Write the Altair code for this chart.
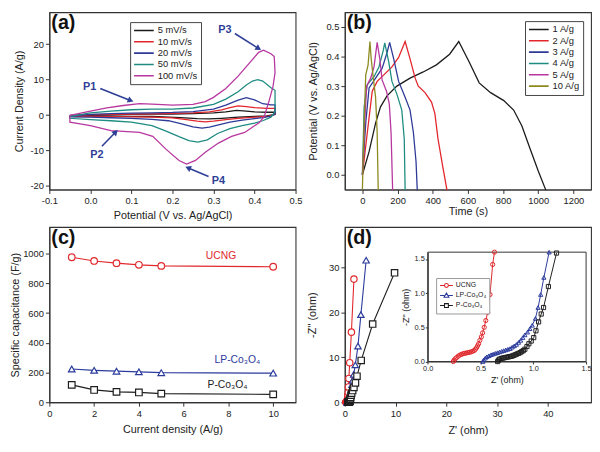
import math
import altair as alt
import pandas as pd

# ---------------- (a) cyclic voltammetry ----------------
cv_names = ["5 mV/s", "10 mV/s", "20 mV/s", "50 mV/s", "100 mV/s"]
cv_colors = ["#1b1b1b", "#e3262c", "#2e3a97", "#1f8c82", "#b7379f"]

cv5_v = [-0.05, 0.0, 0.05, 0.1, 0.15, 0.2, 0.25, 0.3, 0.33, 0.356, 0.38, 0.4, 0.43, 0.45,
         0.45, 0.43, 0.4, 0.36, 0.32, 0.29, 0.26, 0.22, 0.15, 0.1, 0.05, 0.0, -0.05, -0.05]
cv5_i = [-0.1, 0.05, 0.15, 0.2, 0.25, 0.3, 0.4, 0.6, 0.9, 1.3, 1.1, 0.9, 0.8, 0.8,
         0.2, -0.2, -0.4, -0.6, -0.9, -1.1, -1.0, -0.7, -0.4, -0.35, -0.3, -0.3, -0.25, -0.1]

cv10_v = [-0.05, 0.0, 0.05, 0.1, 0.15, 0.2, 0.25, 0.29, 0.32, 0.34, 0.36, 0.38, 0.4, 0.43, 0.45,
          0.45, 0.43, 0.4, 0.36, 0.33, 0.3, 0.28, 0.26, 0.23, 0.2, 0.15, 0.1, 0.05, 0.0, -0.05, -0.05]
cv10_i = [-0.2, 0.1, 0.2, 0.3, 0.35, 0.45, 0.6, 0.9, 1.5, 2.1, 2.6, 2.4, 2.1, 1.9, 1.9,
          0.2, -0.4, -0.6, -0.9, -1.3, -1.7, -1.9, -1.7, -1.2, -0.8, -0.6, -0.5, -0.45, -0.4, -0.35, -0.2]

cv20_v = [-0.05, 0.0, 0.05, 0.1, 0.15, 0.2, 0.25, 0.3, 0.33, 0.36, 0.38, 0.4, 0.42, 0.44, 0.45,
          0.45, 0.44, 0.42, 0.4, 0.37, 0.34, 0.31, 0.29, 0.272, 0.25, 0.22, 0.19, 0.15, 0.1, 0.05, 0.0, -0.05, -0.05]
cv20_i = [-0.3, 0.2, 0.4, 0.55, 0.65, 0.75, 1.0, 1.7, 2.8, 4.2, 4.9, 4.3, 3.2, 2.9, 2.9,
          0.3, -0.3, -0.7, -1.0, -1.4, -2.0, -2.8, -3.4, -3.7, -3.3, -2.4, -1.6, -1.2, -0.9, -0.75, -0.6, -0.5, -0.3]

cv50_v = [-0.05, 0.0, 0.05, 0.1, 0.15, 0.2, 0.25, 0.3, 0.33, 0.36, 0.38, 0.395, 0.408, 0.42, 0.44, 0.45,
          0.45, 0.44, 0.42, 0.4, 0.37, 0.34, 0.31, 0.285, 0.262, 0.24, 0.216, 0.18, 0.15, 0.1, 0.05, 0.0, -0.05, -0.05]
cv50_i = [-0.4, 0.6, 1.1, 1.5, 1.7, 1.7, 2.0, 3.0, 4.5, 6.6, 8.5, 9.6, 10.0, 9.6, 7.7, 7.0,
          1.0, -0.6, -1.6, -2.3, -3.0, -3.8, -5.2, -7.0, -7.6, -7.2, -6.1, -4.3, -3.0, -2.0, -1.6, -1.3, -0.9, -0.4]

cv100_v = [-0.05, 0.0, 0.04, 0.08, 0.12, 0.15, 0.2, 0.25, 0.28, 0.3, 0.33, 0.36, 0.39, 0.41, 0.422, 0.44, 0.448,
           0.45, 0.445, 0.436, 0.424, 0.412, 0.4, 0.376, 0.344, 0.312, 0.28, 0.256, 0.2345, 0.216, 0.184,
           0.152, 0.12, 0.08, 0.05, 0.0, -0.025, -0.05, -0.05]
cv100_i = [-0.1, 1.1, 2.0, 2.7, 3.2, 3.1, 2.8, 3.0, 3.8, 5.0, 7.5, 11.0, 15.0, 17.7, 18.3, 17.3, 16.5,
           12.0, 8.0, 4.2, -0.3, -2.1, -3.0, -4.9, -6.0, -7.9, -10.5, -12.8, -13.8, -12.8, -9.6,
           -6.0, -4.9, -4.6, -4.4, -3.0, -2.5, -2.0, -0.1]

# peak annotations (label position and arrow start/end, in data units)
p_labels = ["P1", "P2", "P3", "P4"]
p_text_v = [-0.002, 0.016, 0.328, 0.312]
p_text_i = [7.8, -11.2, 23.9, -18.6]
p_arrow_v0 = [0.024, 0.028, 0.352, 0.288]
p_arrow_i0 = [7.5, -8.8, 23.0, -17.3]
p_arrow_v1 = [0.096, 0.06, 0.408, 0.24]
p_arrow_i1 = [4.2, -5.0, 18.9, -15.0]

a_xticks = [-0.1, 0.0, 0.1, 0.2, 0.3, 0.4, 0.5]
a_yticks = [-20, -10, 0, 10, 20]

# ---------------- (b) galvanostatic charge/discharge ----------------
gcd_names = ["1 A/g", "2 A/g", "3 A/g", "4 A/g", "5 A/g", "10 A/g"]
gcd_colors = ["#1b1b1b", "#e3262c", "#2e3a97", "#1f8c82", "#b7379f", "#8d8a1f"]

g1_t = [0, 38, 75, 103, 140, 196, 271, 346, 421, 496, 548, 608, 664, 729, 804, 860, 907, 953, 1000, 1043]
g1_v = [0.0, 0.078, 0.175, 0.23, 0.267, 0.30, 0.327, 0.348, 0.372, 0.408, 0.451, 0.381, 0.311, 0.278,
        0.251, 0.219, 0.165, 0.089, 0.013, -0.052]
g2_t = [0, 28, 56, 84, 122, 168, 206, 243, 271, 300, 318, 356, 393, 412, 430, 458, 481]
g2_v = [0.0, 0.143, 0.283, 0.316, 0.338, 0.365, 0.397, 0.451, 0.392, 0.327, 0.30, 0.278, 0.246, 0.208,
        0.121, 0.024, -0.052]
g3_t = [0, 19, 38, 75, 112, 140, 155, 178, 206, 243, 271, 290, 305, 312]
g3_v = [0.0, 0.175, 0.294, 0.327, 0.36, 0.413, 0.448, 0.392, 0.316, 0.262, 0.219, 0.143, 0.045, -0.052]
g4_t = [0, 10, 28, 66, 94, 118, 127, 150, 168, 196, 224, 238, 243]
g4_v = [0.0, 0.23, 0.305, 0.332, 0.365, 0.419, 0.446, 0.381, 0.316, 0.273, 0.219, 0.121, -0.052]
g5_t = [0, 13, 24, 47, 66, 84, 99, 112, 137, 153, 163, 172]
g5_v = [0.0, 0.175, 0.30, 0.327, 0.365, 0.448, 0.392, 0.321, 0.283, 0.24, 0.143, -0.052]
g10_t = [0, 2, 10, 19, 32, 43, 50, 62, 75, 84, 90]
g10_v = [-0.05, 0.0, 0.175, 0.338, 0.37, 0.451, 0.392, 0.327, 0.262, 0.143, -0.052]

b_xticks = [0, 200, 400, 600, 800, 1000, 1200]
b_yticks = [0.0, 0.1, 0.2, 0.3, 0.4, 0.5]

# ---------------- (c) specific capacitance ----------------
mat_names = ["UCNG", "LP-Co\u2083O\u2084", "P-Co\u2083O\u2084"]
mat_colors = ["#e0282c", "#2b3b9c", "#1e1e1e"]
mat_shapes = ["circle", "triangle-up", "square"]

cap_j = [1, 2, 3, 4, 5, 10]
ucng_c = [976, 951, 936, 925, 918, 912]
lp_c = [224, 215, 209, 205, 199, 196]
p_c = [117, 83, 70, 66, 58, 53]

c_lbl_x = [7.67, 8.4, 7.96]
c_lbl_y = [987, 284, 117]
c_xticks = [0, 2, 4, 6, 8, 10]
c_yticks = [0, 200, 400, 600, 800, 1000]

# ---------------- (d) Nyquist plots ----------------
# low-impedance region (inset)
ucng_ix = [0.242, 0.25, 0.26, 0.275, 0.29, 0.305, 0.32, 0.335, 0.35, 0.365, 0.38, 0.395, 0.41, 0.425,
           0.44, 0.452, 0.462, 0.472, 0.482, 0.494, 0.508, 0.52, 0.535, 0.55, 0.568, 0.59, 0.615, 0.632]
ucng_iy = [0.0, 0.02, 0.04, 0.06, 0.08, 0.095, 0.105, 0.115, 0.12, 0.125, 0.13, 0.135, 0.14, 0.15,
           0.16, 0.18, 0.2, 0.23, 0.26, 0.31, 0.36, 0.42, 0.5, 0.6, 0.72, 0.98, 1.42, 1.6]
lp_ix = [0.522, 0.53, 0.545, 0.56, 0.58, 0.6, 0.62, 0.64, 0.66, 0.68, 0.70, 0.72, 0.74, 0.76, 0.78,
         0.80, 0.82, 0.84, 0.86, 0.88, 0.9, 0.92, 0.945, 0.967, 0.99, 1.02, 1.045, 1.07, 1.1, 1.15]
lp_iy = [0.0, 0.025, 0.05, 0.07, 0.085, 0.1, 0.11, 0.12, 0.13, 0.14, 0.15, 0.16, 0.17, 0.18, 0.19,
         0.21, 0.23, 0.25, 0.28, 0.31, 0.35, 0.39, 0.43, 0.48, 0.53, 0.63, 0.79, 0.98, 1.23, 1.6]
p_ix = [0.662, 0.67, 0.68, 0.695, 0.71, 0.725, 0.74, 0.755, 0.77, 0.785, 0.80, 0.815, 0.83, 0.845,
        0.86, 0.875, 0.89, 0.905, 0.92, 0.94, 0.958, 0.98, 1.004, 1.025, 1.05, 1.075, 1.097, 1.143, 1.22]
p_iy = [0.0, 0.02, 0.035, 0.045, 0.05, 0.055, 0.06, 0.065, 0.07, 0.075, 0.08, 0.09, 0.1, 0.11,
        0.12, 0.13, 0.145, 0.16, 0.18, 0.22, 0.26, 0.3, 0.35, 0.45, 0.58, 0.695, 0.79, 1.097, 1.587]
# higher-impedance points (main plot)
ucng_mx = [0.68, 0.72, 0.8, 0.97, 1.3, 1.8]
ucng_my = [2.2, 3.4, 5.3, 8.8, 15.6, 27.4]
lp_mx = [1.22, 1.3, 1.42, 1.55, 1.75, 2.07, 2.59, 3.17, 4.2]
lp_my = [2.0, 2.8, 3.9, 4.9, 6.2, 8.3, 12.5, 19.5, 31.6]
p_mx = [1.35, 1.55, 1.8, 2.1, 2.4, 3.23, 5.49, 9.8]
p_my = [2.0, 2.6, 3.3, 4.3, 5.8, 9.3, 17.4, 28.8]

d_xticks = [0, 10, 20, 30, 40]
d_yticks = [0, 10, 20, 30]
i_ticks = [0.0, 0.5, 1.0, 1.5]

# legend symbols with a connecting line stub (custom paths in the [-1, 1] box)
legend_paths = [
    "M-1,0H-0.3M0.3,0H1M0.3,0A0.3,0.3,0,1,1,-0.3,0A0.3,0.3,0,1,1,0.3,0Z",
    "M-1,0H-0.22M0.22,0H1M0,-0.38L0.38,0.28L-0.38,0.28Z",
    "M-1,0H-0.3M0.3,0H1M-0.3,-0.3H0.3V0.3H-0.3Z",
]

# ---------------- layout / style ----------------
W = 250
H_TOP = 180
H_BOT = 178
AX = "#333333"
ANN = "#2f3f96"
MINUS_FIX = "replace(datum.label, '\u2212', '-')"


def make_df(names, pairs, xname, yname):
    frames = []
    for name, (xs, ys) in zip(names, pairs):
        frames.append(pd.DataFrame({xname: xs, yname: ys, "series": name,
                                    "idx": list(range(len(xs)))}))
    return pd.concat(frames, ignore_index=True)


def lin_scale(dom, rng=None):
    if rng is None:
        return alt.Scale(domain=dom, nice=False, zero=False)
    return alt.Scale(domain=dom, range=rng, nice=False, zero=False)


def panel_label(txt):
    return alt.Chart(pd.DataFrame({"t": [txt]})).mark_text(
        align="left", baseline="top", fontSize=20, fontWeight="bold", color="#111111"
    ).encode(x=alt.value(2), y=alt.value(1), text="t:N")


def line_legend(lx, ly):
    return alt.Legend(title=None, orient="none", legendX=lx, legendY=ly,
                      symbolType="stroke", symbolSize=400, symbolStrokeWidth=1.6,
                      labelFontSize=9.5, labelColor="#222222", labelOffset=3,
                      clipHeight=11, rowPadding=0.5, padding=3,
                      strokeColor="#444444", fillColor="white")


# ---------- panel (a)
cv_df = make_df(cv_names, [(cv5_v, cv5_i), (cv10_v, cv10_i), (cv20_v, cv20_i),
                           (cv50_v, cv50_i), (cv100_v, cv100_i)], "V", "I")
a_xdom, a_ydom = [-0.1, 0.5], [-21, 29]


def arrow_angle(x1, y1, x2, y2):
    dx = (x2 - x1) / (a_xdom[1] - a_xdom[0]) * W
    dy = -(y2 - y1) / (a_ydom[1] - a_ydom[0]) * H_TOP
    return (math.degrees(math.atan2(dx, -dy)) + 360) % 360


ann_df = pd.DataFrame({"label": p_labels, "tx": p_text_v, "ty": p_text_i,
                       "x1": p_arrow_v0, "y1": p_arrow_i0, "x2": p_arrow_v1, "y2": p_arrow_i1})
ann_df["ang"] = [arrow_angle(a, b, c, d) for a, b, c, d in
                 zip(p_arrow_v0, p_arrow_i0, p_arrow_v1, p_arrow_i1)]

a_sx, a_sy = lin_scale(a_xdom), lin_scale(a_ydom)
a_axx = alt.Axis(values=a_xticks, format=".1f", labelExpr=MINUS_FIX,
                 title="Potential (V vs. Ag/AgCl)", titlePadding=5)
a_axy = alt.Axis(values=a_yticks, labelExpr=MINUS_FIX,
                 title="Current Density (A/g)", titlePadding=6)

a_lines = alt.Chart(cv_df).mark_line(strokeWidth=1.3).encode(
    x=alt.X("V:Q", scale=a_sx, axis=a_axx),
    y=alt.Y("I:Q", scale=a_sy, axis=a_axy),
    color=alt.Color("series:N", scale=alt.Scale(domain=cv_names, range=cv_colors),
                    legend=line_legend(82, 10)),
    order="idx:Q",
)
a_arrows = alt.Chart(ann_df).mark_rule(color=ANN, strokeWidth=1.6).encode(
    x=alt.X("x1:Q", scale=a_sx, axis=a_axx),
    y=alt.Y("y1:Q", scale=a_sy, axis=a_axy),
    x2="x2:Q", y2="y2:Q")
a_heads = alt.Chart(ann_df).mark_point(shape="triangle", filled=True, size=45,
                                       color=ANN, opacity=1).encode(
    x=alt.X("x2:Q", scale=a_sx, axis=a_axx),
    y=alt.Y("y2:Q", scale=a_sy, axis=a_axy),
    angle=alt.Angle("ang:Q", scale=None))
a_text = alt.Chart(ann_df).mark_text(color=ANN, fontWeight="bold", fontSize=11).encode(
    x=alt.X("tx:Q", scale=a_sx, axis=a_axx),
    y=alt.Y("ty:Q", scale=a_sy, axis=a_axy),
    text="label:N")

panel_a = alt.layer(a_lines, a_arrows, a_heads, a_text, panel_label("(a)")).properties(
    width=W, height=H_TOP)

# ---------- panel (b)
gcd_df = make_df(gcd_names, [(g1_t, g1_v), (g2_t, g2_v), (g3_t, g3_v), (g4_t, g4_v),
                             (g5_t, g5_v), (g10_t, g10_v)], "time", "pot")
b_sx, b_sy = lin_scale([-100, 1300]), lin_scale([-0.05, 0.55])
b_axx = alt.Axis(values=b_xticks, format="d", title="Time (s)", titlePadding=1)
b_axy = alt.Axis(values=b_yticks, format=".1f", title="Potential (V vs. Ag/AgCl)",
                 titlePadding=7.5)
b_lines = alt.Chart(gcd_df).mark_line(strokeWidth=1.3).encode(
    x=alt.X("time:Q", scale=b_sx, axis=b_axx),
    y=alt.Y("pot:Q", scale=b_sy, axis=b_axy),
    color=alt.Color("series:N", scale=alt.Scale(domain=gcd_names, range=gcd_colors),
                    legend=line_legend(183, 9)),
    order="idx:Q",
)
panel_b = alt.layer(b_lines, panel_label("(b)")).properties(width=W, height=H_TOP)

# ---------- panel (c)
cap_df = make_df(mat_names, [(cap_j, ucng_c), (cap_j, lp_c), (cap_j, p_c)], "J", "C")
c_lbl_df = pd.DataFrame({"series": mat_names, "lx": c_lbl_x, "ly": c_lbl_y})
c_xs, c_ys = lin_scale([0, 11]), lin_scale([0, 1180])
c_axx = alt.Axis(values=c_xticks, title="Current density (A/g)", titlePadding=6)
c_axy = alt.Axis(values=c_yticks, format="d", title="Specific capacitance (F/g)", titlePadding=2.5)
c_x = alt.X("J:Q", scale=c_xs, axis=c_axx)
c_y = alt.Y("C:Q", scale=c_ys, axis=c_axy)
mat_color = alt.Scale(domain=mat_names, range=mat_colors)
mat_shape = alt.Scale(domain=mat_names, range=mat_shapes)

c_lines = alt.Chart(cap_df).mark_line(strokeWidth=1.2).encode(
    x=c_x, y=c_y, color=alt.Color("series:N", scale=mat_color, legend=None), order="idx:Q")
c_pts = alt.Chart(cap_df).mark_point(filled=True, fill="white", size=45, strokeWidth=1.2,
                                     opacity=1).encode(
    x=c_x, y=c_y,
    stroke=alt.Stroke("series:N", scale=mat_color, legend=None),
    shape=alt.Shape("series:N", scale=mat_shape, legend=None))
c_text = alt.Chart(c_lbl_df).mark_text(fontSize=10.5).encode(
    x=alt.X("lx:Q", scale=c_xs, axis=c_axx), y=alt.Y("ly:Q", scale=c_ys, axis=c_axy),
    text="series:N", color=alt.Color("series:N", scale=mat_color, legend=None))
panel_c = alt.layer(c_lines, c_pts, c_text, panel_label("(c)")).properties(width=W, height=H_BOT)

# ---------- panel (d)
nyq_main = make_df(mat_names, [(ucng_ix + ucng_mx, ucng_iy + ucng_my),
                               (lp_ix + lp_mx, lp_iy + lp_my),
                               (p_ix + p_mx, p_iy + p_my)], "Zr", "Zi")
nyq_inset = make_df(mat_names, [(ucng_ix, ucng_iy), (lp_ix, lp_iy), (p_ix, p_iy)], "Zr", "Zi")

d_xs, d_ys = lin_scale([0, 48.5]), lin_scale([0, 39])
d_x = alt.X("Zr:Q", scale=d_xs, axis=alt.Axis(values=d_xticks, title="Z' (ohm)", titlePadding=7))
d_y = alt.Y("Zi:Q", scale=d_ys, axis=alt.Axis(values=d_yticks, title="-Z'' (ohm)", titlePadding=11))
d_lines = alt.Chart(nyq_main).mark_line(strokeWidth=1.1).encode(
    x=d_x, y=d_y, color=alt.Color("series:N", scale=mat_color, legend=None), order="idx:Q")
d_pts = alt.Chart(nyq_main).mark_point(filled=True, fill="white", size=42, strokeWidth=1.2,
                                       opacity=1).encode(
    x=d_x, y=d_y,
    stroke=alt.Stroke("series:N", scale=mat_color, legend=None),
    shape=alt.Shape("series:N", scale=mat_shape, legend=None))
d_main = alt.layer(d_lines, d_pts)

# inset placement inside panel (d) plot area (pixels)
ins_left, ins_right = 84.2, 245.0
ins_top, ins_bottom = 26.5 / 184.3 * H_BOT, 141.5 / 184.3 * H_BOT
i_xdom, i_ydom = [0, 1.5], [0, 1.6]
i_xs = lin_scale(i_xdom, [ins_left, ins_right])
i_ys = lin_scale(i_ydom, [ins_bottom, ins_top])
i_axis_common = dict(values=i_ticks, format=".1f", labelFontSize=7.5, titleFontSize=9,
                     tickSize=2.5, labelPadding=1)
i_axx = alt.Axis(orient="bottom", offset=ins_bottom - H_BOT, title="Z' (ohm)",
                 titlePadding=3, **i_axis_common)
i_axy = alt.Axis(orient="left", offset=-ins_left, title="-Z'' (ohm)",
                 titlePadding=3.5, **i_axis_common)
i_x = alt.X("Zr:Q", scale=i_xs, axis=i_axx)
i_y = alt.Y("Zi:Q", scale=i_ys, axis=i_axy)
frame_df = pd.DataFrame({"x0": [i_xdom[0]], "x1": [i_xdom[1]], "y0": [i_ydom[0]], "y1": [i_ydom[1]]})
i_frame = alt.Chart(frame_df).mark_rect(fillOpacity=0, stroke=AX, strokeWidth=1).encode(
    x=alt.X("x0:Q", scale=i_xs, axis=i_axx), x2="x1:Q",
    y=alt.Y("y0:Q", scale=i_ys, axis=i_axy), y2="y1:Q")
i_lines = alt.Chart(nyq_inset).mark_line(strokeWidth=1).encode(
    x=i_x, y=i_y, color=alt.Color("series:N", scale=mat_color, legend=None), order="idx:Q")
i_pts = alt.Chart(nyq_inset).mark_point(filled=False, size=18, strokeWidth=1, opacity=1).encode(
    x=i_x, y=i_y,
    color=alt.Color("series:N", scale=mat_color, legend=None),
    shape=alt.Shape("series:N", scale=mat_shape, legend=None))
d_inset = alt.layer(i_frame, i_lines, i_pts)

inset_legend = dict(title=None, orient="none", legendX=92.7, legendY=53.7 / 184.3 * H_BOT,
                    symbolSize=169, symbolStrokeWidth=1.1, labelFontSize=7,
                    labelColor="#222222", labelOffset=2, clipHeight=9, rowPadding=1.2,
                    padding=3, strokeColor="#9a9a9a", fillColor="white")
d_leg = alt.Chart(pd.DataFrame({"series": mat_names})).transform_filter("false").mark_point(
    filled=False, strokeWidth=1.1, opacity=1).encode(
    x=alt.value(0), y=alt.value(0),
    color=alt.Color("series:N", scale=alt.Scale(domain=mat_names, range=mat_colors),
                    legend=alt.Legend(**inset_legend)),
    shape=alt.Shape("series:N", scale=alt.Scale(domain=mat_names, range=legend_paths),
                    legend=alt.Legend(**inset_legend)))

panel_d = alt.layer(d_main, d_inset, d_leg, panel_label("(d)")).resolve_scale(
    x="independent", y="independent", color="independent", shape="independent",
    stroke="independent").properties(width=W, height=H_BOT)

# ---------- assemble: two columns of plots aligned on their frames
indep = dict(color="independent", stroke="independent", shape="independent")
left_col = alt.vconcat(panel_a, panel_c, spacing=38, bounds="flush").resolve_scale(**indep)
right_col = alt.vconcat(panel_b, panel_d, spacing=38, bounds="flush").resolve_scale(**indep)
chart = alt.hconcat(left_col, right_col, spacing=2).resolve_scale(**indep).properties(
    padding=0
).configure(
    font="Liberation Sans"
).configure_view(
    stroke=AX, strokeWidth=1.1
).configure_axis(
    grid=False, domainColor=AX, domainWidth=1.1, tickColor=AX, tickSize=4, tickWidth=1,
    labelFontSize=9.5, labelColor="#222222", labelPadding=2, labelFlush=False,
    labelOverlap=False, titleFontSize=11, titleFontWeight="normal", titleColor="#222222"
)

chart.save("out.html", embed_options={"renderer": "svg", "actions": False})
